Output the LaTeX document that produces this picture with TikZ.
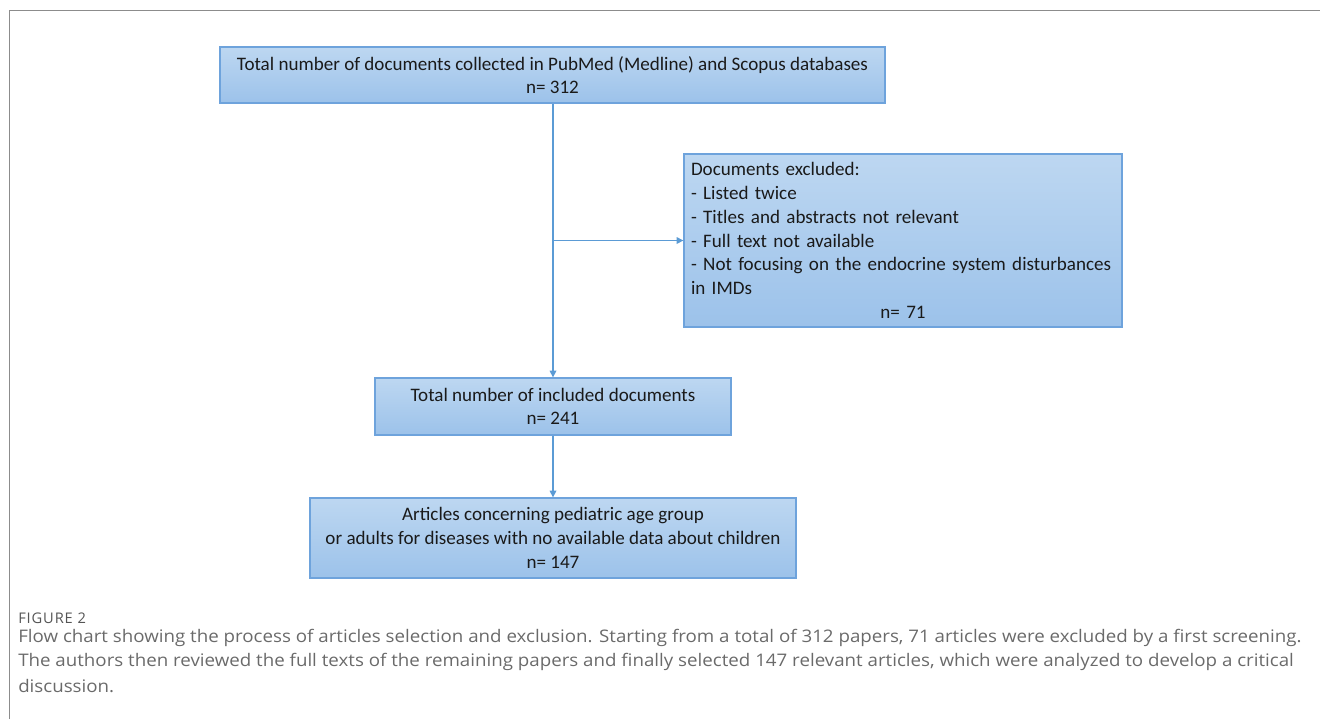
\documentclass[tikz,border=0pt]{standalone}
\usepackage{fontspec}
\setmainfont{Carlito}
\newfontfamily\capfont[FakeStretch=1.08]{Open Sans}
\newfontfamily\figfont[LetterSpace=6]{Open Sans}
\usetikzlibrary{arrows.meta}
\definecolor{boxtop}{HTML}{BDD7F1}
\definecolor{boxbot}{HTML}{9CC2EA}
\definecolor{boxedge}{HTML}{6EA3DC}
\definecolor{linec}{HTML}{5B9BD5}
\definecolor{txt}{HTML}{1A1A1A}
\definecolor{capgray}{HTML}{6A6A6A}
\definecolor{figgray}{HTML}{555555}
\definecolor{framegray}{HTML}{8C8C8C}
\tikzset{
  flowbox/.style={draw=boxedge, line width=1pt, top color=boxtop, bottom color=boxbot,
    text=txt, inner sep=0pt, font=\fontsize{14.3pt}{17.8pt}\selectfont},
  conn/.style={draw=linec, line width=0.9pt, -{Triangle[width=5pt,length=5pt]}},
  captext/.style={anchor=west, inner sep=0pt, text=capgray, font=\capfont\fontsize{13pt}{16pt}\selectfont}
}
\begin{document}
\hyphenpenalty=10000\relax
\begin{tikzpicture}[x=0.75pt,y=-0.75pt]
\useasboundingbox (0,0) rectangle (1320,719);
\draw[framegray, line width=1.2pt] (9.5,719) -- (9.5,10.5) -- (1320,10.5);

\node[flowbox, minimum width=665*0.75pt, minimum height=56*0.75pt, align=center] (b1) at (552.5,75)
  {Total number of documents collected in PubMed (Medline) and Scopus databases\\n= 312};

\node[flowbox, minimum width=438*0.75pt, minimum height=173*0.75pt, text width=424*0.75pt, align=left] (b2) at (903,240.5)
  {Documents excluded:\\- Listed twice\\- Titles and abstracts not relevant\\- Full text not available\\- Not focusing on the endocrine system disturbances\\in IMDs\\\makebox[\linewidth]{n= 71}};

\node[flowbox, minimum width=356*0.75pt, minimum height=57*0.75pt, align=center] (b3) at (553,406.5)
  {Total number of included documents\\n= 241};

\node[flowbox, minimum width=486*0.75pt, minimum height=80*0.75pt, align=center] (b4) at (553,538)
  {Articles concerning pediatric age group\\or adults for diseases with no available data about children\\n= 147};

\coordinate (j) at (553,240.5);
\draw[conn] (b1.south -| j) -- (b3.north -| j);
\draw[conn] (j) -- (b2.west);
\draw[conn] (b3.south) -- (b4.north);

\node[captext, text=figgray, font=\figfont\fontsize{11pt}{12pt}\selectfont] (cap0) at (18,618) {FIGURE 2};
\node[captext] (cap1) at (18,638) {Flow chart showing the process of articles selection and exclusion. Starting from a total of 312 papers, 71 articles were excluded by a first screening.};
\node[captext] (cap2) at (18,662) {The authors then reviewed the full texts of the remaining papers and finally selected 147 relevant articles, which were analyzed to develop a critical};
\node[captext] (cap3) at (18,686) {discussion.};
\end{tikzpicture}
\end{document}
